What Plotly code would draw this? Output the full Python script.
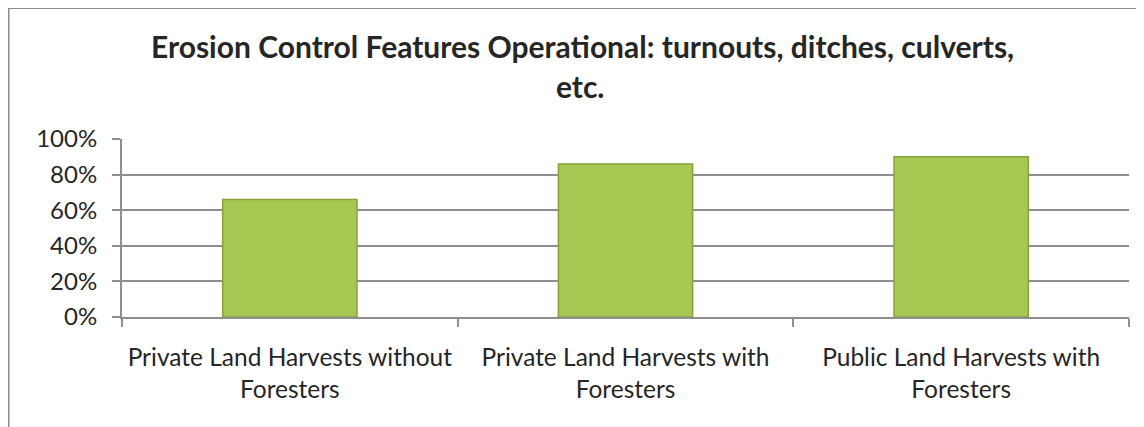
import plotly.graph_objects as go

categories = ["Private Land Harvests without<br>Foresters",
              "Private Land Harvests with<br>Foresters",
              "Public Land Harvests with<br>Foresters"]
values = [0.66, 0.86, 0.90]
y_ticks = [0, 0.2, 0.4, 0.6, 0.8, 1.0]
y_ticklabels = ["0%", "20%", "40%", "60%", "80%", "100%"]
title_line1 = "Erosion Control Features Operational: turnouts, ditches, culverts,"
title_line2 = "etc."

# page body has an 8px margin; layout numbers below are in page pixels
OFF = 8
W, H = 1144, 427
L, R, T, B = 122 - OFF, W - (1129 - OFF), 139 - OFF, H - (317 - OFF)
pw, ph = W - L - R, H - T - B

def px_x(p):
    return (p - OFF - L) / pw

def px_y(p):
    return (H - B - (p - OFF)) / ph

FONT = "Lato"
GRID = "#8e8e8e"
TXT = "#262626"

fig = go.Figure()
fig.add_trace(go.Bar(
    x=categories, y=values,
    marker=dict(color="#a6c853", line=dict(color="#86a23b", width=1.5)),
    width=0.4,
    hoverinfo="skip",
))

fig.update_layout(
    width=W, height=H,
    margin=dict(l=L, r=R, t=T, b=B),
    paper_bgcolor="white", plot_bgcolor="white",
    showlegend=False,
    font=dict(family=FONT, color=TXT, size=24),
    xaxis=dict(
        type="category",
        showgrid=False,
        showline=True, linecolor=GRID, linewidth=2,
        ticks="outside", tickson="boundaries", ticklen=8, tickcolor=GRID, tickwidth=1.5,
        tickfont=dict(size=24.5, family=FONT, color=TXT),
        ticklabelstandoff=18,
    ),
    yaxis=dict(
        range=[0, 1.0],
        tickvals=y_ticks, ticktext=y_ticklabels,
        showgrid=True, gridcolor=GRID, gridwidth=2,
        showline=True, linecolor=GRID, linewidth=2,
        zeroline=False,
        ticks="outside", ticklen=8, tickcolor=GRID, tickwidth=2,
        tickfont=dict(size=24, family=FONT, color=TXT),
        ticklabelstandoff=10,
    ),
    shapes=[
        dict(type="line", xref="paper", yref="paper",
             x0=px_x(7.5), x1=px_x(W + 20), y0=px_y(8), y1=px_y(8),
             line=dict(color=GRID, width=2)),
        dict(type="line", xref="paper", yref="paper",
             x0=px_x(8.5), x1=px_x(8.5), y0=px_y(7), y1=px_y(H + 20),
             line=dict(color=GRID, width=2)),
    ],
    annotations=[
        dict(text="<b>" + title_line1 + "</b>", xref="paper", yref="paper",
             x=px_x(582), y=px_y(46), xanchor="center", yanchor="middle",
             showarrow=False, font=dict(size=30, family=FONT, color=TXT)),
        dict(text="<b>" + title_line2 + "</b>", xref="paper", yref="paper",
             x=px_x(580), y=px_y(86), xanchor="center", yanchor="middle",
             showarrow=False, font=dict(size=30, family=FONT, color=TXT)),
    ],
)

fig.write_html("out.html")
